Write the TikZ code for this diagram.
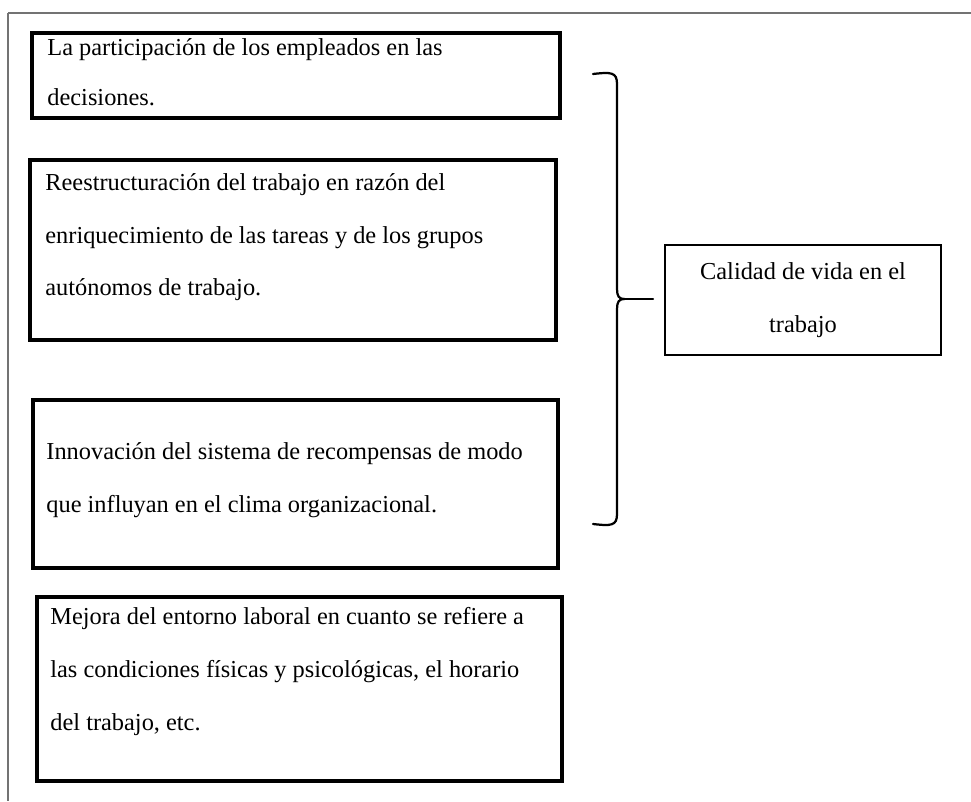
\documentclass[tikz,border=0pt]{standalone}
\usepackage{fontspec}
\setmainfont{Liberation Serif}
\usetikzlibrary{positioning}
\usetikzlibrary{fit}

\tikzset{
  box/.style={draw=black, line width=1.5pt, inner sep=0pt},
  txt/.style={align=left, font=\fontsize{12}{26}\selectfont, inner sep=0pt, anchor=base west},
  resbox/.style={draw=black, line width=1.2pt, align=center, font=\fontsize{12}{26}\selectfont,
                 minimum width=136pt, minimum height=54pt, inner sep=0pt},
  brace/.style={line width=1.1pt, line cap=round},
  frame/.style={draw=black!55, line width=0.6pt}
}

\begin{document}
\begin{tikzpicture}[x=0.4925pt, y=-0.4925pt]
    \useasboundingbox (0,0) rectangle (971,801);

    % page frame (top and left only)
    \draw[frame, line width=0.9pt] (971,13) -- (8,13);
    \draw[frame] (8,13) -- (8,801);

    % Left column -- 4 boxes, text anchored at last baseline
    \node[box, fit={(32,33) (560,118)}] (b1) {};
    \node[txt, font=\fontsize{12}{25}\selectfont] (t1) at (47,106) {La participación de los empleados en las\\decisiones.};

    \node[box, fit={(30,160) (556,340)}] (b2) {};
    \node[txt] (t2) at (45,296) {Reestructuración del trabajo en razón del\\enriquecimiento de las tareas y de los grupos\\autónomos de trabajo.};

    \node[box, fit={(33,400) (558,568)}] (b3) {};
    \node[txt] (t3) at (46,512) {Innovación del sistema de recompensas de modo\\que influyan en el clima organizacional.};

    \node[box, line width=1.8pt, fit={(37,597) (562,781)}] (b4) {};
    \node[txt] (t4) at (50,730) {Mejora del entorno laboral en cuanto se refiere a\\las condiciones físicas y psicológicas, el horario\\del trabajo, etc.};

    % Result box
    \node[resbox] (calidad) at (803,300) {Calidad de vida en el\\trabajo};

    % Brace grouping the four boxes
    \coordinate (cusp) at (624,299);
    \coordinate (tickend) at (653,299);
    \draw[brace] (593,74) .. controls (611,72) and (617,72) .. (617,84) -- (617,289)
        .. controls (617,296) and (619,299) .. (cusp)
        .. controls (619,299) and (617,302) .. (617,309) -- (617,514)
        .. controls (617,526) and (611,526) .. (593,524);
    \draw[brace] (cusp) -- (tickend);
\end{tikzpicture}
\end{document}
